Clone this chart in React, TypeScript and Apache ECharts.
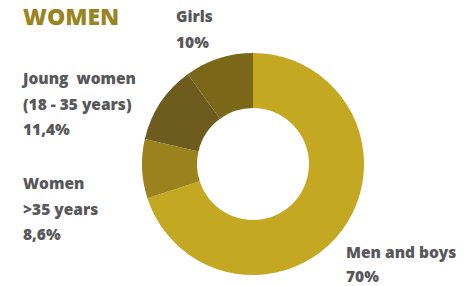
import React, { useEffect, useRef } from "react";
import * as echarts from "echarts";

const categories = ["Men and boys", "Women\n>35 years", "Joung  women\n(18 - 35 years)", "Girls"];
const values = [70, 8.6, 11.4, 10];
const valueLabels = ["70%", "8,6%", "11,4%", "10%"];
const colors = ["#C4A822", "#9A821D", "#6E5C1E", "#7A6818"];
const labelPos = [
  [346, 251.5],
  [23, 183],
  [23, 78],
  [176, 16],
];

export default function App() {
  const ref = useRef<HTMLDivElement>(null);
  useEffect(() => {
    document.body.style.margin = "0";
    const chart = echarts.init(ref.current!, null, { renderer: "svg" });
    const texts: any[] = [];
    categories.forEach((c, i) => {
      const lines = (c + "\n" + valueLabels[i]).split("\n");
      lines.forEach((ln, j) => {
        texts.push({
          type: "text",
          x: labelPos[i][0],
          y: labelPos[i][1] + j * (i === 0 ? 24.5 : 25.5),
          style: {
            text: ln,
            fontFamily: "Open Sans",
            fontWeight: 800,
            fontSize: 15.5,
            fill: "#58585A",
            verticalAlign: "middle",
            align: "left",
          },
        });
      });
    });
    texts.push({
      type: "text",
      x: 23,
      y: 15.5,
      style: {
        text: "WOMEN",
        fontFamily: "Open Sans",
        fontWeight: 800,
        fontSize: 23,
        fill: "#9A841F",
        verticalAlign: "middle",
        align: "left",
      },
    });
    chart.setOption({
      animation: false,
      series: [
        {
          type: "pie",
          center: [253, 164],
          radius: [56, 111],
          startAngle: 90,
          clockwise: true,
          label: { show: false },
          labelLine: { show: false },
          itemStyle: { borderWidth: 0 },
          data: categories.map((c, i) => ({ name: c, value: values[i], itemStyle: { color: colors[i] } })),
        },
      ],
      graphic: texts,
    });
    return () => chart.dispose();
  }, []);
  return <div ref={ref} style={{ width: 464, height: 286 }} />;
}
